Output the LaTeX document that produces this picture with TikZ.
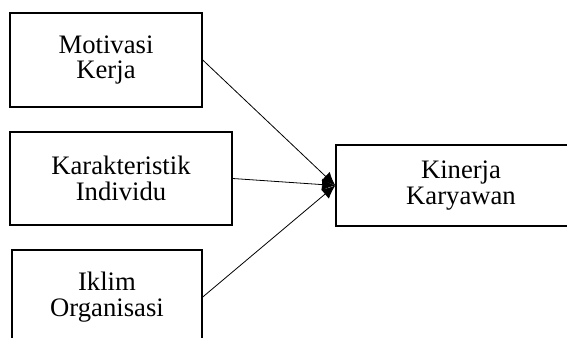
\documentclass[tikz,border=0pt]{standalone}
\usepackage{fontspec}
\setmainfont{Liberation Serif}
\usetikzlibrary{arrows.meta}

\begin{document}
\begin{tikzpicture}[x=0.75pt, y=-0.75pt,
    varbox/.style={draw, line width=1.1pt, align=center, inner sep=0pt,
      font=\fontsize{20}{19}\selectfont},
    link/.style={line width=0.6pt, -{Latex[length=10pt, width=9pt]}}]
            \clip (0,0) rectangle (567,338);
            \node[varbox, minimum width=192*0.75pt, minimum height=94*0.75pt]
              (motivasi) at (106,60) {Motivasi\\Kerja};
            \node[varbox, minimum width=222*0.75pt, minimum height=93*0.75pt]
              (karakter) at (121,178.5) {Karakteristik\\Individu};
            \node[varbox, minimum width=190*0.75pt, minimum height=94*0.75pt]
              (iklim) at (107,297) {Iklim\\Organisasi};
            \node[varbox, minimum width=250*0.75pt, minimum height=81*0.75pt]
              (kinerja) at (461,185.5) {Kinerja\\Karyawan};
            \draw[link] (motivasi.east) -- (kinerja.west);
            \draw[link] (karakter.east) -- (kinerja.west);
            \draw[link] (iklim.east) -- (kinerja.west);
          \end{tikzpicture}
\end{document}
